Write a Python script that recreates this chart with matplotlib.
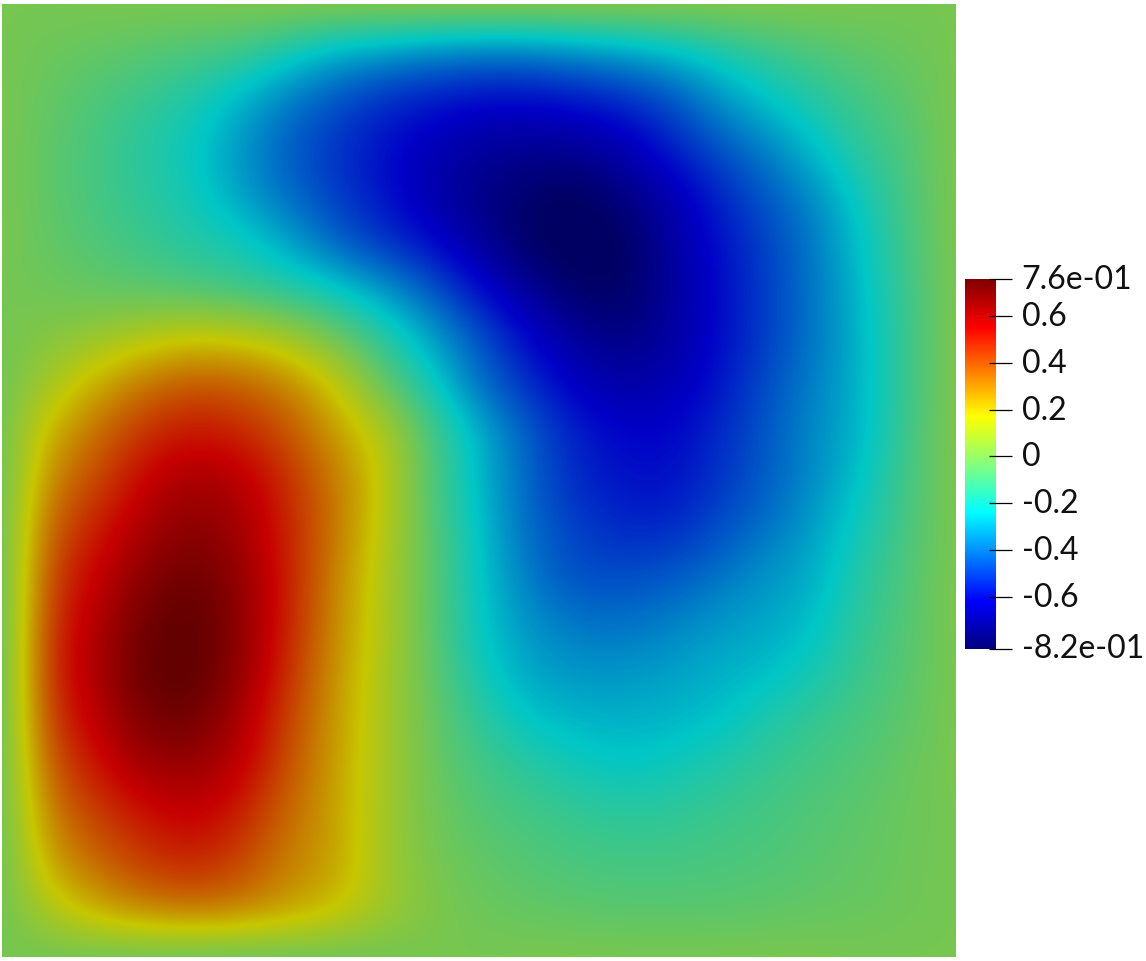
import numpy as np
import matplotlib
matplotlib.use("Agg")
import matplotlib.pyplot as plt
from matplotlib.colors import LinearSegmentedColormap

W, H = 1146, 962

# поле: сетка 21x21, строки сверху вниз, столбцы слева направо
# крайние узлы чуть смещены от нуля: bicubic размазывает край
x_nodes = np.linspace(0, 1, 21)
y_nodes = np.linspace(1, 0, 21)
row_00 = [0, 0, .01, .01, .02, .02, .04, .05, .06, .07, .07, .07, .07, .06, .05, .04, .03, .02, .01, 0, 0]
row_01 = [0, -.02, -.04, -.06, -.09, -.11, -.19, -.28, -.32, -.36, -.38, -.38, -.35, -.31, -.26, -.19, -.13, -.08, -.05, -.025, .005]
row_02 = [.01, -.04, -.08, -.13, -.18, -.27, -.38, -.46, -.53, -.57, -.6, -.6, -.58, -.54, -.47, -.34, -.24, -.17, -.1, -.05, .01]
row_03 = [.01, -.05, -.1, -.16, -.22, -.33, -.44, -.52, -.59, -.65, -.7, -.72, -.71, -.66, -.56, -.46, -.37, -.25, -.14, -.08, .02]
row_04 = [.01, -.05, -.1, -.15, -.2, -.31, -.41, -.5, -.58, -.67, -.75, -.8, -.84, -.76, -.67, -.55, -.45, -.35, -.2, -.09, .02]
row_05 = [.01, -.04, -.08, -.12, -.17, -.2, -.3, -.43, -.52, -.6, -.7, -.82, -.86, -.83, -.7, -.59, -.49, -.39, -.24, -.1, .02]
row_06 = [0, -.02, -.04, -.06, -.08, -.12, -.16, -.22, -.32, -.44, -.59, -.7, -.81, -.82, -.71, -.6, -.5, -.39, -.255, -.11, .02]
row_07 = [-.01, .03, .07, .13, .17, .16, .1, -.01, -.15, -.3, -.45, -.6, -.7, -.76, -.7, -.6, -.5, -.39, -.27, -.12, .03]
row_08 = [-.02, .1, .23, .34, .4, .38, .31, .17, -.03, -.2, -.4, -.52, -.63, -.68, -.66, -.58, -.47, -.37, -.27, -.12, .03]
row_09 = [-.03, .22, .35, .47, .52, .49, .4, .26, .13, -.08, -.27, -.43, -.55, -.61, -.61, -.54, -.45, -.35, -.27, -.11, .03]
row_10 = [-.05, .3, .42, .56, .63, .6, .47, .32, .16, -.08, -.26, -.42, -.54, -.58, -.59, -.52, -.44, -.35, -.24, -.1, .02]
row_11 = [-.06, .38, .5, .62, .69, .63, .49, .33, .14, -.06, -.24, -.41, -.49, -.54, -.54, -.47, -.4, -.31, -.2, -.09, .02]
row_12 = [-.07, .43, .56, .69, .74, .67, .5, .3, .12, -.05, -.23, -.38, -.47, -.47, -.45, -.4, -.33, -.29, -.16, -.08, .02]
row_13 = [-.08, .47, .6, .74, .78, .68, .49, .29, .12, -.05, -.23, -.33, -.39, -.4, -.37, -.32, -.3, -.25, -.14, -.07, .02]
row_14 = [-.08, .48, .62, .76, .78, .67, .47, .27, .11, -.04, -.2, -.3, -.33, -.33, -.31, -.28, -.26, -.2, -.12, -.06, .01]
row_15 = [-.07, .45, .58, .72, .74, .62, .43, .26, .1, -.03, -.14, -.24, -.27, -.28, -.27, -.25, -.18, -.13, -.09, -.05, .01]
row_16 = [-.06, .39, .52, .64, .65, .58, .4, .25, .1, -.02, -.1, -.15, -.2, -.23, -.21, -.17, -.13, -.1, -.07, -.03, .01]
row_17 = [-.05, .32, .44, .52, .57, .5, .35, .25, .09, -.01, -.07, -.1, -.13, -.15, -.14, -.12, -.1, -.07, -.05, -.02, 0]
row_18 = [-.04, .25, .36, .45, .49, .43, .31, .25, .09, 0, -.04, -.07, -.09, -.1, -.1, -.09, -.08, -.06, -.04, -.02, 0]
row_19 = [-.02, .12, .24, .31, .34, .32, .26, .2, .09, .02, -.02, -.04, -.05, -.06, -.06, -.06, -.05, -.04, -.03, -.015, 0]
row_20 = [0, -.02, -.04, -.05, -.06, -.06, -.05, -.04, -.02, 0, 0, .01, .01, .01, .01, .01, .01, .01, 0, 0, 0]

tick_values = [0.76, 0.6, 0.4, 0.2, 0, -0.2, -0.4, -0.6, -0.82]
tick_labels = ["7.6e-01", "0.6", "0.4", "0.2", "0", "-0.2", "-0.4", "-0.6", "-8.2e-01"]

vmin, vmax = -0.82, 0.76

field = np.array([row_00, row_01, row_02, row_03, row_04, row_05, row_06,
                  row_07, row_08, row_09, row_10, row_11, row_12, row_13,
                  row_14, row_15, row_16, row_17, row_18, row_19, row_20])

# палитра как у шкалы; на поле она темнее из-за освещения
stops = [0, .13, .37, .52, .63, .87, 1]
colors = np.array([(0, 0, .5), (0, 0, 1), (0, 1, 1), (.6, 1, .4),
                   (1, 1, 0), (1, 0, 0), (.5, 0, 0)])
bar_cmap = LinearSegmentedColormap.from_list("bar", list(zip(stops, colors)), N=512)
field_cmap = LinearSegmentedColormap.from_list("field", list(zip(stops, colors * 0.78)), N=512)


def px_axes(x0, y0, x1, y1):
    return fig.add_axes([x0 / W, 1 - y1 / H, (x1 - x0) / W, (y1 - y0) / H])


fig = plt.figure(figsize=(W / 100, H / 100), dpi=100, facecolor="white")

ax = px_axes(2, 5, 956, 958)
dx = x_nodes[1] - x_nodes[0]
ax.imshow(field, cmap=field_cmap, vmin=vmin, vmax=vmax, aspect="auto",
          interpolation="bicubic", interpolation_stage="data",
          extent=(-dx / 2, 1 + dx / 2, -dx / 2, 1 + dx / 2))
ax.set_xlim(0, 1)
ax.set_ylim(0, 1)
ax.axis("off")

# шкала
cax = px_axes(965, 279.5, 996, 649.5)
grad = np.linspace(vmax, vmin, 512).reshape(-1, 1)
cax.imshow(grad, cmap=bar_cmap, vmin=vmin, vmax=vmax, aspect="auto",
           extent=(0, 1, vmin, vmax))
cax.set_xlim(0, 1)
cax.set_ylim(vmin, vmax)
cax.set_xticks([])
cax.set_yticks([])
for s in cax.spines.values():
    s.set_visible(False)
cax.hlines(tick_values, 24 / 31, 47 / 31, color="black", linewidth=0.9, clip_on=False)
for v, lab in zip(tick_values, tick_labels):
    cax.annotate(lab, (1, v), xytext=(18.5, 0), textcoords="offset points",
                 va="center", ha="left", fontsize=23, color="#111111", family="Lato")

fig.savefig("out.png", dpi=100, facecolor="white")
